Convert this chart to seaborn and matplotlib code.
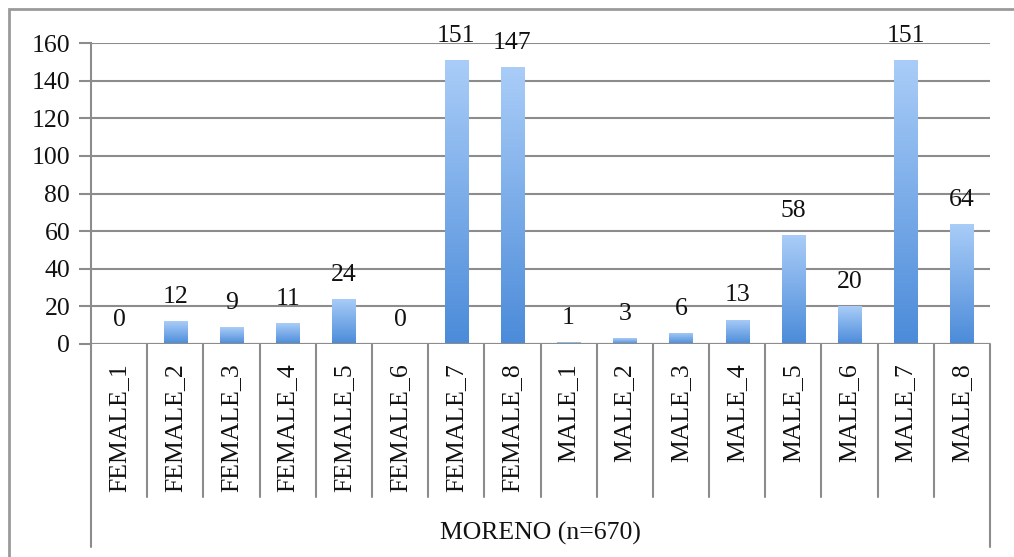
import numpy as np
import pandas as pd
import seaborn as sns
import matplotlib.pyplot as plt
from matplotlib.colors import LinearSegmentedColormap
from matplotlib.patches import Rectangle

# datos
categorias = ['FEMALE_1', 'FEMALE_2', 'FEMALE_3', 'FEMALE_4', 'FEMALE_5', 'FEMALE_6',
              'FEMALE_7', 'FEMALE_8', 'MALE_1', 'MALE_2', 'MALE_3', 'MALE_4',
              'MALE_5', 'MALE_6', 'MALE_7', 'MALE_8']
cantidad = [0, 12, 9, 11, 24, 0, 151, 147, 1, 3, 6, 13, 58, 20, 151, 64]
grupo = 'MORENO (n=670)'
y_ticks = [0, 20, 40, 60, 80, 100, 120, 140, 160]

df = pd.DataFrame({'cat': categorias, 'n': cantidad})

sns.set_style("white")
plt.rcParams['font.family'] = ['Liberation Serif', 'DejaVu Serif']

W, H = 1014, 557
fig = plt.figure(figsize=(W / 100, H / 100), dpi=100)
# area del grafico en pixeles: izq 91, der 990, arriba 43, linea cero 344
ax = fig.add_axes([91 / W, 1 - 344 / H, (990 - 91) / W, (344 - 43) / H])

gris = '#8c8c8c'
sns.barplot(data=df, x='cat', y='n', color='#6fa6e8', width=0.41, ax=ax,
            saturation=1)

ax.set_yticks(y_ticks)
ax.yaxis.grid(True, color=gris, linewidth=1.5)
ax.set_axisbelow(True)
for s in ['top', 'right', 'bottom']:
    ax.spines[s].set_visible(False)
ax.spines['left'].set_color(gris)
ax.spines['left'].set_linewidth(1.5)
ax.axhline(0, color=gris, linewidth=1.5, zorder=3)
ax.tick_params(axis='y', length=9, width=1.5, color=gris, labelsize=18.5, pad=6,
               direction='out', left=True, labelcolor='#111111')
ax.tick_params(axis='x', length=0, labelsize=18.5, pad=14, labelrotation=90,
               labelcolor='#111111')
ax.set_xlabel('')
ax.set_ylabel('')

# gradiente en cada barra
cmap = LinearSegmentedColormap.from_list('g', ['#4b8bd9', '#aacdf8'])
grad = np.linspace(0, 1, 256).reshape(-1, 1)
for p in ax.patches:
    x0, y0 = p.get_x(), p.get_y()
    w, h = p.get_width(), p.get_height()
    if h <= 0:
        p.set_visible(False)
        continue
    im = ax.imshow(grad, cmap=cmap, aspect='auto', origin='lower',
                   extent=[x0, x0 + w, y0, y0 + h], zorder=2)
    im.set_clip_path(p)
    p.set_facecolor('none')
    p.set_edgecolor('none')
ax.set_xlim(-0.5, len(categorias) - 0.5)
ax.set_ylim(0, 160)

# etiquetas de valores
for i, v in enumerate(cantidad):
    ax.annotate(str(v), (i, v), xytext=(0, 13), textcoords='offset points',
                ha='center', va='baseline', fontsize=18.5, color='#111111')

# separadores de categorias bajo el eje
tr = ax.get_xaxis_transform()
sep_bottom = -(497 - 344) / (344 - 43)
full_bottom = -(547 - 344) / (344 - 43)
for i in range(1, len(categorias)):
    ax.plot([i - 0.5, i - 0.5], [0, sep_bottom], color=gris, lw=1.5,
            transform=tr, clip_on=False)
for xb in [-0.5, len(categorias) - 0.5]:
    ax.plot([xb, xb], [0, full_bottom], color=gris, lw=1.5,
            transform=tr, clip_on=False)

ax.text((len(categorias) - 1) / 2, -(533 - 344) / (344 - 43), grupo,
        transform=tr, ha='center', va='center', fontsize=18.5, color='#111111')

# marco exterior
fig.patches.append(Rectangle((9 / W, -0.1), 1.2, 1 - 9 / H + 0.1,
                             transform=fig.transFigure, fill=False,
                             edgecolor='#9a9a9a', linewidth=2))

fig.savefig('out.png', dpi=100)
